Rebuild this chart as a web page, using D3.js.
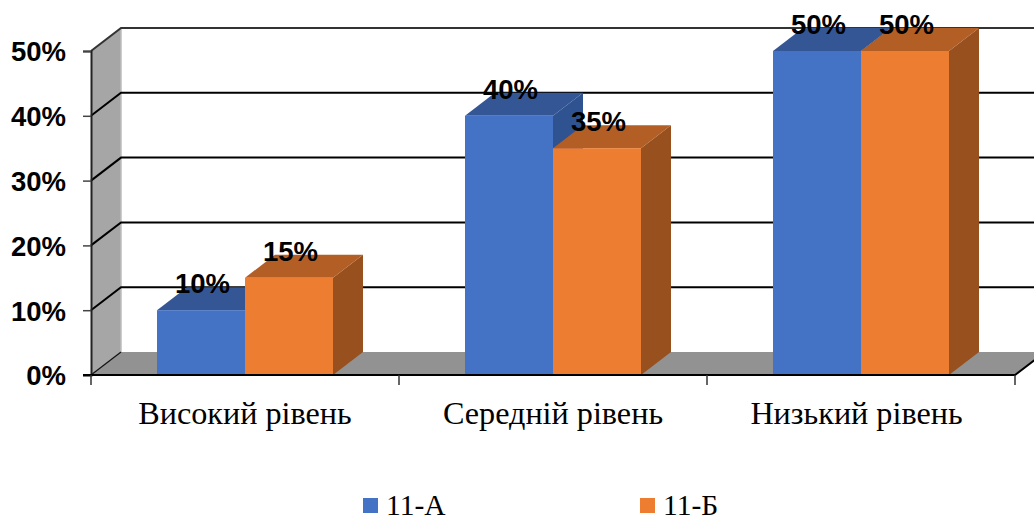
<!DOCTYPE html>
<html>

<head>
  <meta charset="utf-8">
  <title>Рівні 11-А та 11-Б</title>
  <style>
    body { margin: 0; background: #fff; }
    svg { display: block; }
  </style>
</head>

<body>
  <svg id="svg"></svg>

  <script src="https://d3js.org/d3.v7.min.js"></script>

  <script>
    const categories = ["Високий рівень", "Середній рівень", "Низький рівень"];
    const seriesNames = ["11-А", "11-Б"];
    const seriesA = [10, 40, 50];
    const seriesB = [15, 35, 50];
    const yTicks = [0, 10, 20, 30, 40, 50];

    const width = 1034, height = 517;
    const plotLeft = 91, plotRight = 1015, plotBottom = 375, plotTop = 51;
    const depthX = 30, depthY = -23;
    const labelShift = [0, 0, -4.5]; // the last category label sits a bit left of its band

    const colors = {
      "11-А": { front: "#4472C4", top: "#355695", side: "#2F5291" },
      "11-Б": { front: "#ED7D31", top: "#B25E24", side: "#97501E" }
    };

    const svg = d3.select("#svg").attr("width", width).attr("height", height);

    const xScale = d3.scaleBand().domain(categories).range([plotLeft, plotRight])
      .paddingInner(0.4286).paddingOuter(0.2143);
    const xSeries = d3.scaleBand().domain(seriesNames).range([0, xScale.bandwidth()]);
    const yScale = d3.scaleLinear().domain([0, 50]).range([plotBottom, plotTop]);

    const poly = pts => pts.map(p => p.join(",")).join(" ");

    // left wall and floor
    svg.append("polygon")
      .attr("points", poly([[plotLeft, plotBottom], [plotLeft + depthX, plotBottom + depthY], [plotLeft + depthX, plotTop + depthY], [plotLeft, plotTop]]))
      .attr("fill", "#A6A6A6");

    svg.append("polygon")
      .attr("points", poly([[plotLeft, plotBottom], [plotLeft + depthX, plotBottom + depthY], [plotRight + depthX, plotBottom + depthY], [plotRight, plotBottom]]))
      .attr("fill", "#929292");

    svg.append("line")
      .attr("x1", plotLeft + depthX).attr("x2", plotLeft + depthX)
      .attr("y1", plotTop + depthY).attr("y2", plotBottom + depthY)
      .attr("stroke", "#BDBDBD").attr("stroke-width", 1.5);

    // gridlines run along the wall, then across the back
    svg.append("g").selectAll("polyline")
      .data(yTicks.filter(d => d > 0))
      .join("polyline")
      .attr("points", d => poly([
        [plotLeft, yScale(d)],
        [plotLeft + depthX, yScale(d) + depthY],
        [width, yScale(d) + depthY]
      ]))
      .attr("fill", "none")
      .attr("stroke", d => d === 50 ? "#333" : "#000")
      .attr("stroke-width", 2);

    svg.append("polyline")
      .attr("points", poly([[plotLeft, plotBottom], [plotLeft + depthX, plotBottom + depthY]]))
      .attr("fill", "none").attr("stroke", "#111").attr("stroke-width", 1.2);

    // y axis
    const yAxis = svg.append("g")
      .attr("transform", `translate(${plotLeft}, 0)`)
      .call(d3.axisLeft(yScale).tickValues(yTicks).tickSize(8).tickPadding(10).tickFormat(d => d + "%"));
    yAxis.select(".domain").attr("stroke", "#222").attr("stroke-width", 2);
    yAxis.selectAll(".tick line").attr("stroke", "#444").attr("stroke-width", 1.5);
    yAxis.selectAll(".tick text")
      .attr("x", -25)
      .attr("y", 1)
      .attr("dy", "0.32em")
      .attr("fill", "#000")
      .style("font", "bold 27.5px 'Liberation Sans'");

    // bars
    const bars = [];
    categories.forEach((c, i) => {
      bars.push({ category: c, series: seriesNames[0], value: seriesA[i] });
      bars.push({ category: c, series: seriesNames[1], value: seriesB[i] });
    });

    const barX = d => xScale(d.category) + xSeries(d.series);
    const barW = xSeries.bandwidth();

    const barG = svg.append("g").selectAll("g").data(bars).join("g");

    barG.append("polygon")
      .attr("points", d => poly([
        [barX(d) + barW, plotBottom],
        [barX(d) + barW + depthX, plotBottom + depthY],
        [barX(d) + barW + depthX, yScale(d.value) + depthY],
        [barX(d) + barW, yScale(d.value)]
      ]))
      .attr("fill", d => colors[d.series].side);

    barG.append("polygon")
      .attr("points", d => poly([
        [barX(d), yScale(d.value)],
        [barX(d) + depthX, yScale(d.value) + depthY],
        [barX(d) + barW + depthX, yScale(d.value) + depthY],
        [barX(d) + barW, yScale(d.value)]
      ]))
      .attr("fill", d => colors[d.series].top);

    barG.append("rect")
      .attr("x", barX)
      .attr("y", d => yScale(d.value))
      .attr("width", barW)
      .attr("height", d => plotBottom - yScale(d.value))
      .attr("fill", d => colors[d.series].front);

    // x axis, ticks sit between the categories
    svg.append("polyline")
      .attr("points", poly([[plotLeft - 8, plotBottom], [plotRight, plotBottom], [plotRight + depthX, plotBottom + depthY]]))
      .attr("fill", "none").attr("stroke", "#000").attr("stroke-width", 2);

    svg.append("g").selectAll("line")
      .data(d3.range(categories.length + 1))
      .join("line")
      .attr("x1", i => plotLeft + i * xScale.step())
      .attr("x2", i => plotLeft + i * xScale.step())
      .attr("y1", plotBottom)
      .attr("y2", plotBottom + 10)
      .attr("stroke", "#333")
      .attr("stroke-width", 1.5);

    svg.append("g").selectAll("text")
      .data(categories)
      .join("text")
      .attr("x", (d, i) => xScale(d) + xScale.bandwidth() / 2 + labelShift[i])
      .attr("y", 424)
      .attr("text-anchor", "middle")
      .style("font", "32.2px 'Liberation Serif'")
      .text(d => d);

    // data labels
    svg.append("g").selectAll("text")
      .data(bars)
      .join("text")
      .attr("x", d => barX(d) + barW / 2 + 1.5)
      .attr("y", d => yScale(d.value) - 17)
      .attr("text-anchor", "middle")
      .style("font", "bold 27.5px 'Liberation Sans'")
      .text(d => d.value + "%");

    // legend
    const legendX = d3.scaleOrdinal().domain(seriesNames).range([363, 640]);
    const legend = svg.append("g").selectAll("g").data(seriesNames).join("g")
      .attr("transform", d => `translate(${legendX(d)}, 498)`);

    legend.append("rect")
      .attr("width", 15).attr("height", 15)
      .attr("fill", d => colors[d].front);

    legend.append("text")
      .attr("x", 23).attr("y", 17)
      .style("font", "29.5px 'Liberation Serif'")
      .text(d => d);
  </script>
</body>

</html>
